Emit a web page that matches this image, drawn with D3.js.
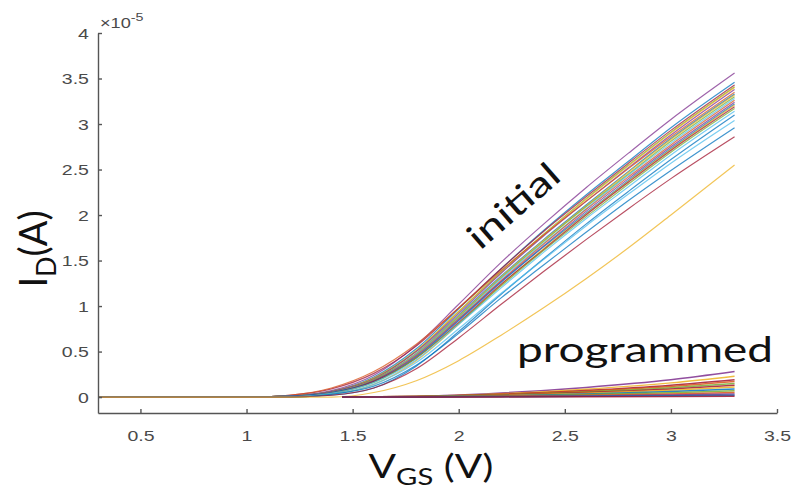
<!DOCTYPE html>
<html>
<head>
<meta charset="utf-8">
<script src="https://cdn.jsdelivr.net/npm/d3@7/dist/d3.min.js"></script>
<style>
  body { margin: 0; background: #fff; }
  svg { display: block; }
</style>
</head>
<body>
<div id="chart"></div>
<script>
// gate voltages of the sweeps (V)
const vInit = [0.3, 1.0, 1.2, 1.4, 1.6, 1.8, 2.0, 2.2, 2.4, 2.6, 2.8, 3.0, 3.3]
const vProg = [1.45, 1.8, 2.2, 2.6, 3.0, 3.3]

// drain current, units of 1e-5 A
const initCurves = [
  [0, 0, 0.01, 0.07, 0.24, 0.57, 1.02, 1.48, 1.90, 2.30, 2.68, 3.05, 3.56],
  [0, 0, 0.01, 0.06, 0.22, 0.53, 0.97, 1.41, 1.83, 2.22, 2.59, 2.96, 3.46],
  [0, 0, 0.02, 0.09, 0.26, 0.56, 0.98, 1.41, 1.82, 2.20, 2.57, 2.93, 3.43],
  [0, 0, 0.01, 0.06, 0.21, 0.51, 0.94, 1.38, 1.79, 2.18, 2.55, 2.91, 3.41],
  [0, 0, 0.01, 0.06, 0.21, 0.51, 0.94, 1.37, 1.78, 2.17, 2.54, 2.90, 3.40],
  [0, 0, 0.01, 0.06, 0.20, 0.50, 0.92, 1.36, 1.77, 2.15, 2.52, 2.88, 3.38],
  [0, 0, 0.02, 0.10, 0.28, 0.58, 0.98, 1.39, 1.78, 2.15, 2.51, 2.86, 3.35],
  [0, 0, 0.01, 0.05, 0.19, 0.48, 0.90, 1.33, 1.73, 2.11, 2.48, 2.84, 3.33],
  [0, 0, 0.01, 0.05, 0.19, 0.48, 0.89, 1.32, 1.72, 2.10, 2.47, 2.83, 3.32],
  [0, 0, 0.01, 0.05, 0.19, 0.47, 0.88, 1.31, 1.71, 2.09, 2.45, 2.81, 3.30],
  [0, 0, 0.01, 0.05, 0.18, 0.47, 0.87, 1.30, 1.69, 2.07, 2.44, 2.79, 3.28],
  [0, 0, 0.01, 0.05, 0.18, 0.46, 0.86, 1.28, 1.68, 2.06, 2.42, 2.77, 3.26],
  [0, 0, 0.01, 0.05, 0.18, 0.45, 0.85, 1.27, 1.66, 2.04, 2.40, 2.75, 3.24],
  [0, 0, 0.01, 0.05, 0.17, 0.44, 0.84, 1.26, 1.65, 2.02, 2.38, 2.73, 3.22],
  [0, 0, 0, 0.03, 0.14, 0.40, 0.80, 1.23, 1.63, 2.01, 2.37, 2.72, 3.21],
  [0, 0, 0, 0.04, 0.17, 0.43, 0.82, 1.24, 1.62, 2.00, 2.36, 2.71, 3.19],
  [0, 0, 0, 0.04, 0.16, 0.43, 0.81, 1.22, 1.61, 1.98, 2.34, 2.69, 3.17],
  [0, 0, 0, 0.04, 0.16, 0.41, 0.80, 1.20, 1.59, 1.96, 2.31, 2.66, 3.14],
  [0, 0, 0, 0.02, 0.10, 0.34, 0.72, 1.13, 1.52, 1.90, 2.26, 2.61, 3.10],
  [0, 0, 0, 0.03, 0.14, 0.38, 0.75, 1.14, 1.51, 1.88, 2.23, 2.57, 3.04],
  [0, 0, 0, 0.03, 0.12, 0.35, 0.70, 1.09, 1.45, 1.81, 2.16, 2.49, 2.96],
  [0, 0, 0, 0.02, 0.10, 0.31, 0.65, 1.02, 1.38, 1.73, 2.07, 2.40, 2.86],
  [0, 0, 0, 0, 0.05, 0.18, 0.40, 0.68, 0.98, 1.30, 1.64, 2.00, 2.55]
]

const initColors = [
  "#7E2F8E", "#0072BD", "#A2142F", "#77AC30", "#EDB120", "#7E2F8E",
  "#D95319", "#0072BD", "#EDB120", "#77AC30", "#4DBEEE", "#D95319",
  "#7E2F8E", "#0072BD", "#EDB120", "#A2142F", "#77AC30", "#4DBEEE",
  "#0072BD", "#4DBEEE", "#0072BD", "#A2142F", "#EDB120"
]

const progCurves = [
  [0, 0.008, 0.045, 0.106, 0.19, 0.28],
  [0, 0.007, 0.037, 0.087, 0.156, 0.23],
  [0, 0.006, 0.030, 0.072, 0.130, 0.19],
  [0, 0.005, 0.027, 0.065, 0.116, 0.17],
  [0, 0.005, 0.024, 0.057, 0.102, 0.15],
  [0, 0.004, 0.021, 0.049, 0.088, 0.13],
  [0, 0.003, 0.018, 0.042, 0.075, 0.11],
  [0, 0.003, 0.014, 0.034, 0.061, 0.09],
  [0, 0.002, 0.011, 0.027, 0.048, 0.07],
  [0, 0.002, 0.008, 0.019, 0.034, 0.05],
  [0, 0.001, 0.006, 0.013, 0.024, 0.035],
  [0, 0.001, 0.003, 0.008, 0.014, 0.02],
  [0, 0, 0.002, 0.004, 0.007, 0.01]
]

const progColors = [
  "#7E2F8E", "#EDB120", "#A2142F", "#D95319", "#77AC30", "#A2142F",
  "#EDB120", "#0072BD", "#77AC30", "#D95319", "#7E2F8E", "#0072BD", "#A2142F"
]

const xTicks = [0.5, 1, 1.5, 2, 2.5, 3, 3.5]
const yTicks = [0, 0.5, 1, 1.5, 2, 2.5, 3, 3.5, 4]

const width = 795
const height = 490
const margin = { top: 33, right: 18, bottom: 77, left: 98 }
const stretch = 1.3   // the picture is wider than its fonts suggest

const svg = d3.select("#chart")
  .append("svg")
  .attr("width", width)
  .attr("height", height)
  .style("background", "#fff")

// ******************* scales *******************
const xScale = d3.scaleLinear()
  .domain([0.3, 3.5])
  .range([margin.left, width - margin.right])

const yScale = d3.scaleLinear()
  .domain([-0.175, 4])
  .range([height - margin.bottom, margin.top])

const line = (xs) => d3.line()
  .x((d, i) => xScale(xs[i]))
  .y(d => yScale(d))
  .curve(d3.curveMonotoneX)

// ******************* curves *******************
svg.append("g")
  .selectAll("path")
  .data(initCurves)
  .enter()
  .append("path")
  .attr("d", line(vInit))
  .attr("fill", "none")
  .attr("stroke", (d, i) => initColors[i])
  .attr("stroke-width", 1.2)
  .attr("stroke-opacity", 0.75)

svg.append("g")
  .selectAll("path")
  .data(progCurves)
  .enter()
  .append("path")
  .attr("d", line(vProg))
  .attr("fill", "none")
  .attr("stroke", (d, i) => progColors[i])
  .attr("stroke-width", 1.5)
  .attr("stroke-opacity", 0.85)

// ******************* axes *******************
const xAxis = svg.append("g")
  .attr("transform", "translate(0," + (height - margin.bottom) + ")")
  .call(d3.axisBottom(xScale)
    .tickValues(xTicks)
    .tickFormat(d3.format("~g"))
    .tickSizeInner(-4)
    .tickSizeOuter(0)
    .tickPadding(17))

const yAxis = svg.append("g")
  .attr("transform", "translate(" + margin.left + ",0)")
  .call(d3.axisLeft(yScale)
    .tickValues(yTicks)
    .tickFormat(d3.format("~g"))
    .tickSizeInner(-4)
    .tickSizeOuter(0)
    .tickPadding(7))

svg.selectAll(".domain, .tick line")
  .attr("stroke", "#555")
  .attr("stroke-width", 1.4)

svg.selectAll(".tick text")
  .attr("fill", "#4a4a4a")
  .style("font-family", "'Liberation Sans', Arial, sans-serif")
  .style("font-size", "15px")
  .attr("transform", "scale(" + stretch + ",1)")

yAxis.selectAll(".tick text").attr("dy", "0.36em")

// exponent label
const expo = svg.append("text")
  .attr("transform", "translate(100,28) scale(" + stretch + ",1)")
  .attr("fill", "#4a4a4a")
  .style("font-family", "'Liberation Sans', Arial, sans-serif")
  .style("font-size", "14px")
expo.append("tspan").text("\u00d710")
expo.append("tspan").attr("dy", -7).style("font-size", "11px").text("-5")

// ******************* labels *******************
const xLabel = svg.append("text")
  .attr("transform", "translate(431,478) scale(1.27,1)")
  .attr("text-anchor", "middle")
  .style("font-family", "Lato, sans-serif")
  .style("font-size", "32px")
  .attr("fill", "#111")
xLabel.append("tspan").text("V")
xLabel.append("tspan").attr("dy", 7).style("font-size", "23px").text("GS")
xLabel.append("tspan").attr("dy", -7).text(" (V)")

const yLabel = svg.append("text")
  .attr("transform", "translate(47,249) rotate(-90)")
  .attr("text-anchor", "middle")
  .style("font-family", "Lato, sans-serif")
  .style("font-size", "38px")
  .attr("fill", "#111")
yLabel.append("tspan").text("I")
yLabel.append("tspan").attr("dy", 9).style("font-size", "27px").text("D")
yLabel.append("tspan").attr("dy", -9).text("(A)")

svg.append("text")
  .attr("transform", "translate(480,251) rotate(-41)")
  .style("font-family", "Lato, sans-serif")
  .style("font-size", "35px")
  .attr("fill", "#111")
  .attr("textLength", 110)
  .attr("lengthAdjust", "spacingAndGlyphs")
  .text("initial")

svg.append("text")
  .attr("x", 517)
  .attr("y", 362)
  .style("font-family", "Lato, sans-serif")
  .style("font-size", "35px")
  .attr("fill", "#111")
  .attr("textLength", 256)
  .attr("lengthAdjust", "spacingAndGlyphs")
  .text("programmed")
</script>
</body>
</html>
